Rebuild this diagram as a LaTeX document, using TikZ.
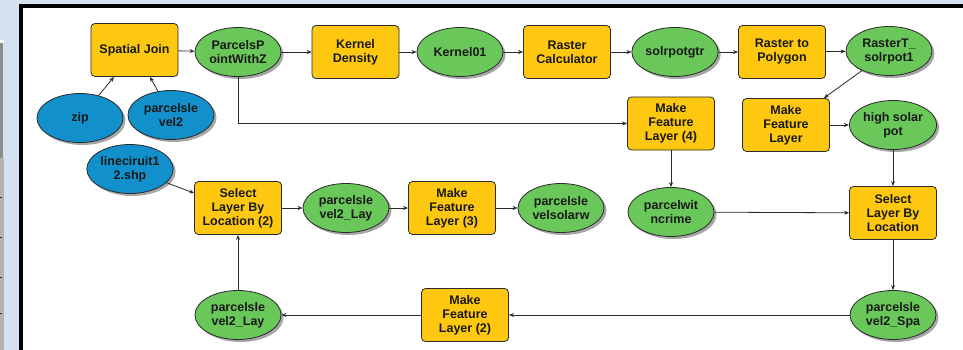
\documentclass[tikz,border=0pt]{standalone}
\usepackage{fontspec}
\setmainfont{Liberation Sans}
\usetikzlibrary{arrows.meta,shadows,shapes.geometric}

\definecolor{panelblue}{HTML}{D4E1EF}
\definecolor{toolyellow}{HTML}{FDC80F}
\definecolor{datagreen}{HTML}{6AC85A}
\definecolor{inputblue}{HTML}{1290CC}
\definecolor{edge}{HTML}{2A2A2A}

\tikzset{
  base/.style={draw=edge, line width=0.8pt, align=center, inner sep=1pt,
    font=\fontsize{12.5}{14}\selectfont\bfseries, text=black!90},
  tool/.style={base, fill=toolyellow, rounded corners=4pt,
    minimum width=87pt, minimum height=53pt},
  data/.style={base, ellipse, fill=datagreen, minimum width=86pt, minimum height=49pt,
    drop shadow={shadow xshift=2.5pt, shadow yshift=-2.5pt, fill=black, opacity=0.35}},
  input/.style={data, fill=inputblue},
  flow/.style={draw=edge, line width=0.8pt, -{Stealth[length=5pt,width=4pt]}},
}

\begin{document}
\begin{tikzpicture}[x=1pt, y=-1pt]
\useasboundingbox (0,0) rectangle (963,350);

% window chrome round the canvas
\fill[panelblue] (0,0) rectangle (963,350);
\fill[white] (0,40) rectangle (4,43);
\fill[black!45] (0,43) rectangle (3,158);
\fill[black!30] (0,158) rectangle (4,350);
\foreach \ty in {197,237,277,313} \fill[black!80] (0,\ty) rectangle (2,\ty+1);
\fill[black] (19,4) rectangle (963,350);
\fill[white] (23,8) rectangle (963,350);

% first row
\node[tool]  (sj)    at (134.5,50) {Spatial Join};
\node[data]  (pp)    at (238,52)   {ParcelsP\\ointWithZ};
\node[tool]  (kd)    at (355.5,52) {Kernel\\Density};
\node[data]  (k01)   at (460,52)   {Kernel01};
\node[tool]  (rc)    at (567,52)   {Raster\\Calculator};
\node[data]  (spg)   at (675,52)   {solrpotgtr};
\node[tool]  (rtp)   at (782,52)   {Raster to\\Polygon};
\node[data]  (rts)   at (889,51)   {RasterT\_\\solrpot1};

% inputs
\node[input] (zip)   at (80,118)   {zip};
\node[input] (pl2)   at (171,115)  {parcelsle\\vel2};
\node[input] (lc)    at (130,169)  {lineciruit1\\2.shp};

% second row
\node[tool]  (mfl4)  at (671,123.5) {Make\\Feature\\Layer (4)};
\node[tool]  (mfl)   at (786,125)   {Make\\Feature\\Layer};
\node[data]  (hsp)   at (893,125)   {high solar\\pot};

% third row
\node[tool]  (slbl2) at (238,208)  {Select\\Layer By\\Location (2)};
\node[data]  (lay1)  at (346,208)  {parcelsle\\vel2\_Lay};
\node[tool]  (mfl3)  at (452,208)  {Make\\Feature\\Layer (3)};
\node[data]  (solw)  at (561,208)  {parcelsle\\velsolarw};
\node[data]  (pwc)   at (671,212)  {parcelwit\\ncrime};
\node[tool]  (slbl)  at (893,213)  {Select\\Layer By\\Location};

% fourth row
\node[data]  (lay2)  at (238,315)  {parcelsle\\vel2\_Lay};
\node[tool]  (mfl2)  at (465,315)  {Make\\Feature\\Layer (2)};
\node[data]  (spa)   at (893,315)  {parcelsle\\vel2\_Spa};

% connectors
\draw[flow] (sj) -- (pp);
\draw[flow] (pp) -- (kd);
\draw[flow] (kd) -- (k01);
\draw[flow] (k01) -- (rc);
\draw[flow] (rc) -- (spg);
\draw[flow] (spg) -- (rtp);
\draw[flow] (rtp) -- (rts);
\draw[flow] (zip) -- ([xshift=-20.5pt]sj.south);
\draw[flow] (pl2) -- ([xshift=15.5pt]sj.south);
\draw[flow] (pp.south) |- (mfl4.west);
\draw[flow] (rts) -- ([xshift=-6pt]mfl.north east);
\draw[flow] (mfl) -- (hsp);
\draw[flow] (mfl4) -- (pwc);
\draw[flow] (hsp) -- (slbl);
\draw[flow] (pwc) -- (slbl);
\draw[flow] (slbl) -- (spa);
\draw[flow] (lc) -- ([yshift=-12pt]slbl2.north west);
\draw[flow] (slbl2) -- (lay1);
\draw[flow] (lay1) -- (mfl3);
\draw[flow] (mfl3) -- (solw);
\draw[flow] (spa) -- (mfl2);
\draw[flow] (mfl2) -- (lay2);
\draw[flow] (lay2) -- (slbl2);
\end{tikzpicture}
\end{document}
